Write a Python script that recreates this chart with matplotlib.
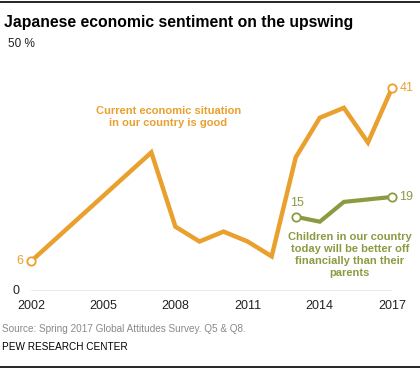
import numpy as np
import matplotlib
matplotlib.use("Agg")
import matplotlib.pyplot as plt
from matplotlib.lines import Line2D

ORANGE = "#eaa02e"
GREEN = "#8c9b42"
INK, MUTED = "#222222", "#8a8a8a"

plt.rcParams["font.family"] = ["Liberation Sans", "DejaVu Sans"]

# current economic situation is good (%)
econ_years = [2002, 2007, 2008, 2009, 2010, 2011, 2012, 2013, 2014, 2015, 2016, 2017]
econ_vals = [6, 28, 13, 10, 12, 10, 7, 27, 35, 37, 30, 41]

# children will be better off financially (%)
kids_years = [2013, 2014, 2015, 2017]
kids_vals = [15, 14, 18, 19]

xticks = [2002, 2005, 2008, 2011, 2014, 2017]

W, H = 420, 369
fig = plt.figure(figsize=(W / 100, H / 100), dpi=100, facecolor="white")

# axes placed in pixels: x 31..392, y(0)=291, y(50)=43.5
left, right, bottom, top = 31, 392, 291, 43.5
ax = fig.add_axes([left / W, 1 - bottom / H, (right - left) / W, (bottom - top) / H])
ax.set_xlim(2002, 2017)
ax.set_ylim(0, 50)
ax.axis("off")

ax.axhline(0, color="#9a9a9a", lw=1, zorder=1)

ax.plot(econ_years, econ_vals, color=ORANGE, lw=3.2, solid_joinstyle="miter",
        solid_capstyle="butt", zorder=3, clip_on=False)
ax.plot(kids_years, kids_vals, color=GREEN, lw=3.0, solid_joinstyle="miter",
        solid_capstyle="butt", zorder=3, clip_on=False)

for xs, ys, c in [(econ_years, econ_vals, ORANGE), (kids_years, kids_vals, GREEN)]:
    ax.plot([xs[0], xs[-1]], [ys[0], ys[-1]], ls="none", marker="o", ms=6,
            mfc="white", mec=c, mew=1.3, zorder=4, clip_on=False)

# end labels
ax.text(econ_years[0] - 0.3, econ_vals[0], str(econ_vals[0]), color=ORANGE,
        fontsize=9, ha="right", va="center")
ax.text(econ_years[-1] + 0.3, econ_vals[-1], str(econ_vals[-1]), color=ORANGE,
        fontsize=9, ha="left", va="center")
ax.text(kids_years[0] + 0.05, kids_vals[0] + 1.5, str(kids_vals[0]), color=GREEN,
        fontsize=9, ha="center", va="bottom")
ax.text(kids_years[-1] + 0.3, kids_vals[-1], str(kids_vals[-1]), color=GREEN,
        fontsize=9, ha="left", va="center")

# series labels
ax.text(2007.7, 35.2, "Current economic situation\nin our country is good",
        color=ORANGE, fontsize=8, fontweight="bold", ha="center", va="center",
        linespacing=1.25)
ax.text(2015.25, 7.3, "Children in our country\ntoday will be better off\nfinancially than their\nparents",
        color=GREEN, fontsize=8, fontweight="bold", ha="center", va="center",
        linespacing=1.25)

# tick labels
for yr in xticks:
    ax.text(yr, -3, str(yr), fontsize=9, color=INK, ha="center", va="center",
            clip_on=False)
ax.text(2002 - 0.63, 0, "0", fontsize=9, color=INK, ha="center", va="center")
fig.text(8 / W, 1 - 44 / H, "50 %", fontsize=8.5, color=INK, ha="left", va="center")

# title, notes, rules
fig.text(4 / W, 1 - 22 / H, "Japanese economic sentiment on the upswing",
         fontsize=11.3, fontweight="bold", color="black", ha="left", va="center")
fig.text(2 / W, 1 - 329 / H, "Source: Spring 2017 Global Attitudes Survey. Q5 & Q8.",
         fontsize=7.2, color=MUTED, ha="left", va="center")
fig.text(2 / W, 1 - 347 / H, "PEW RESEARCH CENTER", fontsize=7.2, color="black",
         ha="left", va="center")
fig.add_artist(Line2D([0, 1], [1 - 1.5 / H] * 2, color="black", lw=1.2))
fig.add_artist(Line2D([0, 1], [1 - 367 / H] * 2, color="black", lw=1.2))

fig.savefig("out.png", dpi=100, facecolor="white")
